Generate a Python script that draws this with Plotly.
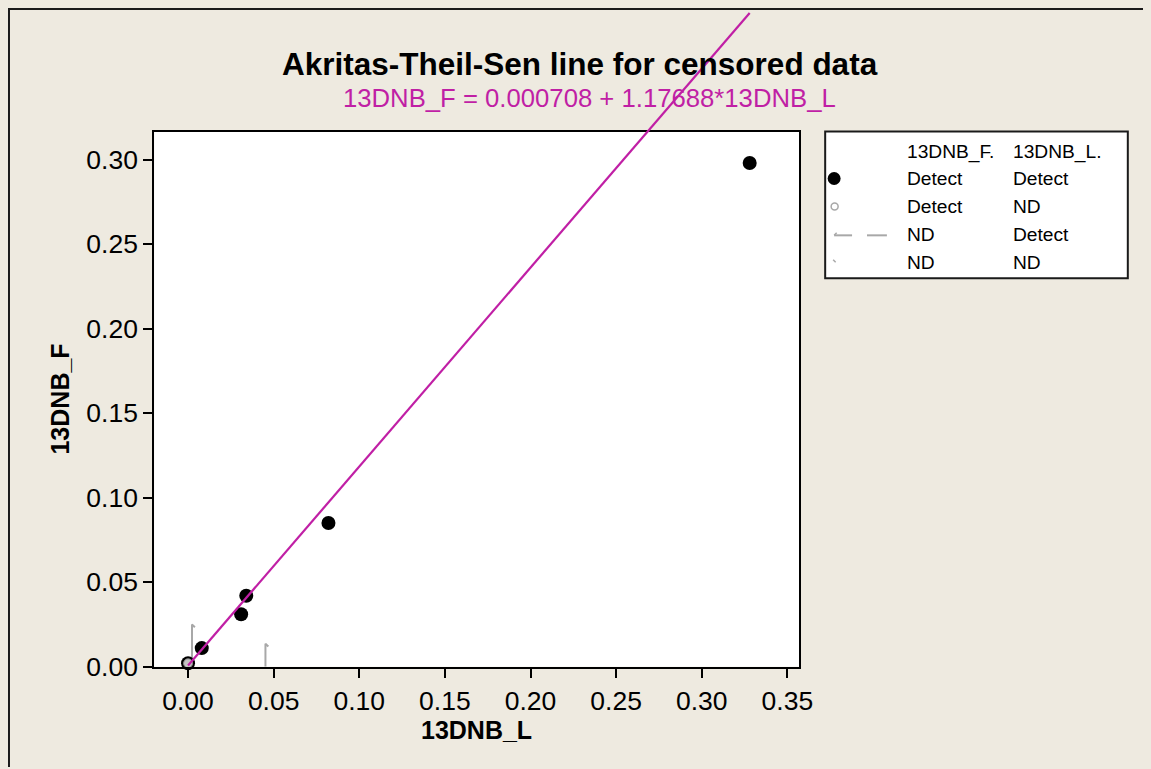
import plotly.graph_objects as go

# ---------------- data ----------------
det_x = [0.000, 0.008, 0.031, 0.034, 0.082, 0.328]          # 13DNB_L detected
det_y = [0.002, 0.011, 0.031, 0.042, 0.085, 0.298]          # 13DNB_F detected
dnd_x = [0.000]                                             # F detect, L ND
dnd_y = [0.002]
ndd_x = [0.0023, 0.0452]                                    # F ND, L detect
ndd_y = [0.0250, 0.0136]                                    # detection limits of F
intercept = 0.000708
slope = 1.17688
x_ticks = [0.00, 0.05, 0.10, 0.15, 0.20, 0.25, 0.30, 0.35]
y_ticks = [0.00, 0.05, 0.10, 0.15, 0.20, 0.25, 0.30]
title_text = "Akritas-Theil-Sen line for censored data"
subtitle_text = "13DNB_F = 0.000708 + 1.17688*13DNB_L"
legend_header = ["13DNB_F.", "13DNB_L."]
legend_rows = [["Detect", "Detect"], ["Detect", "ND"], ["ND", "Detect"], ["ND", "ND"]]

# ---------------- layout geometry ----------------
OFF = 8                      # default body margin of the html page
W, H = 1152, 774
SX, AX = 0.9923, -2.8        # observed page->picture mapping
SY, AY = 0.9832, -1.8
BG = "#EEEAE0"
MAG = "#C01FA5"
GREY = "#A8A8A8"
FONT = "Liberation Sans"


def px(d):
    return ((d - AX) / SX - OFF) / W


def py(d):
    return 1 - ((d - AY) / SY - OFF) / H


xdom = [px(152), px(800)]
ydom = [py(666.5), py(130)]
xr = [-0.01977, 0.35698]
yr = [0.0, 0.31654]

# full-figure overlay axes with identical data scale (so the fit line can leave the plot box)
sx = (xr[1] - xr[0]) / (xdom[1] - xdom[0])
sy = (yr[1] - yr[0]) / (ydom[1] - ydom[0])
x2r = [xr[0] - xdom[0] * sx, xr[1] + (1 - xdom[1]) * sx]
y2r = [yr[0] - ydom[0] * sy, yr[1] + (1 - ydom[1]) * sy]

fig = go.Figure()

# censored (F nondetect) vertical bars with small hook
cx, cy = [], []
for x, lim in zip(ndd_x, ndd_y):
    cx += [x, x, x + 0.0017, None]
    cy += [0, lim, lim - 0.0016, None]
fig.add_trace(go.Scatter(x=cx, y=cy, mode="lines", line=dict(color=GREY, width=2),
                         showlegend=False, hoverinfo="skip", cliponaxis=False))

fig.add_trace(go.Scatter(x=det_x, y=det_y, mode="markers",
                         marker=dict(color="black", size=14, line=dict(width=0)),
                         showlegend=False, cliponaxis=False))
fig.add_trace(go.Scatter(x=dnd_x, y=dnd_y, mode="markers",
                         marker=dict(color="#C4C4C4", size=9, line=dict(color="#8A8A8A", width=1)),
                         showlegend=False, cliponaxis=False))

# fit line from min x to max x on overlay axes
xmin, xmax = min(det_x + dnd_x), max(det_x + dnd_x)
fig.add_trace(go.Scatter(x=[xmin, xmax], y=[intercept + slope * xmin, intercept + slope * xmax],
                         mode="lines", line=dict(color=MAG, width=2.2),
                         xaxis="x2", yaxis="y2", showlegend=False))

axis_common = dict(showgrid=False, zeroline=False, showline=True, mirror=True,
                   linecolor="black", linewidth=2, ticks="outside", ticklen=9,
                   tickwidth=2, tickcolor="black",
                   tickfont=dict(family=FONT, size=26.5, color="black"))

fig.update_layout(
    width=W, height=H,
    margin=dict(l=0, r=0, t=0, b=0),
    paper_bgcolor=BG, plot_bgcolor="rgba(0,0,0,0)",
    showlegend=False,
    xaxis=dict(domain=xdom, range=xr, tickvals=x_ticks, tickformat=".2f", **axis_common),
    yaxis=dict(domain=ydom, range=yr, tickvals=y_ticks, tickformat=".2f", **axis_common),
    xaxis2=dict(domain=[0, 1], range=x2r, visible=False, anchor="y2"),
    yaxis2=dict(domain=[0, 1], range=y2r, visible=False, anchor="x2"),
)

shapes = [
    dict(type="rect", xref="x domain", yref="y domain", x0=0, x1=1, y0=0, y1=1,
         fillcolor="white", line=dict(width=0), layer="below"),
    # outer frame (top & left) along the figure edge
    dict(type="line", xref="paper", yref="paper", x0=0, x1=1, y0=1 - 1.0 / H, y1=1 - 1.0 / H,
         line=dict(color="#1A1A1A", width=2)),
    dict(type="line", xref="paper", yref="paper", x0=1.0 / W, x1=1.0 / W, y0=1, y1=0,
         line=dict(color="#1A1A1A", width=2)),
    # legend box
    dict(type="rect", xref="paper", yref="paper", x0=px(826), x1=px(1130), y0=py(130), y1=py(277),
         fillcolor="white", line=dict(color="#1A1A1A", width=2)),
    # legend symbols
    dict(type="circle", xref="paper", yref="paper", x0=px(828.5), x1=px(841.5), y0=py(183.5), y1=py(170.5),
         fillcolor="black", line=dict(width=0)),
    dict(type="circle", xref="paper", yref="paper", x0=px(832), x1=px(839), y0=py(208.5), y1=py(201.5),
         fillcolor="white", line=dict(color=GREY, width=1.5)),
    dict(type="line", xref="paper", yref="paper", x0=px(835), x1=px(853), y0=py(234), y1=py(234),
         line=dict(color=GREY, width=2)),
    dict(type="line", xref="paper", yref="paper", x0=px(868), x1=px(888), y0=py(234), y1=py(234),
         line=dict(color=GREY, width=2)),
    dict(type="line", xref="paper", yref="paper", x0=px(835), x1=px(837.5), y0=py(234), y1=py(231.5),
         line=dict(color=GREY, width=1.5)),
    dict(type="line", xref="paper", yref="paper", x0=px(834), x1=px(836.5), y0=py(258.5), y1=py(261),
         line=dict(color=GREY, width=1.5)),
]
fig.update_layout(shapes=shapes)

ann = [
    dict(text="<b>" + title_text + "</b>", x=px(580), y=py(62), xref="paper", yref="paper",
         showarrow=False, xanchor="center", yanchor="middle",
         font=dict(family=FONT, size=31.5, color="black")),
    dict(text=subtitle_text, x=px(589), y=py(96), xref="paper", yref="paper",
         showarrow=False, xanchor="center", yanchor="middle",
         font=dict(family=FONT, size=25.7, color=MAG)),
    dict(text="<b>13DNB_L</b>", x=px(476), y=py(730), xref="paper", yref="paper",
         showarrow=False, xanchor="center", yanchor="middle",
         font=dict(family=FONT, size=25, color="black")),
    dict(text="<b>13DNB_F</b>", x=px(57), y=py(398), xref="paper", yref="paper",
         showarrow=False, xanchor="center", yanchor="middle", textangle=-90,
         font=dict(family=FONT, size=25, color="black")),
]
col_x = [906, 1013]
row_y = [177, 205, 233, 261]
for cx_, t in zip(col_x, legend_header):
    ann.append(dict(text=t, x=px(cx_), y=py(150), xref="paper", yref="paper", showarrow=False,
                    xanchor="left", yanchor="middle", font=dict(family=FONT, size=19.2, color="black")))
for ry, row in zip(row_y, legend_rows):
    for cx_, t in zip(col_x, row):
        ann.append(dict(text=t, x=px(cx_), y=py(ry), xref="paper", yref="paper", showarrow=False,
                        xanchor="left", yanchor="middle", font=dict(family=FONT, size=19.2, color="black")))
fig.update_layout(annotations=ann)

post = ("document.body.style.background='%s';"
        "document.documentElement.style.overflow='hidden';"
        "document.body.style.overflow='hidden';" % BG)

fig.write_html("out.html", config={"displayModeBar": False}, post_script=post)
